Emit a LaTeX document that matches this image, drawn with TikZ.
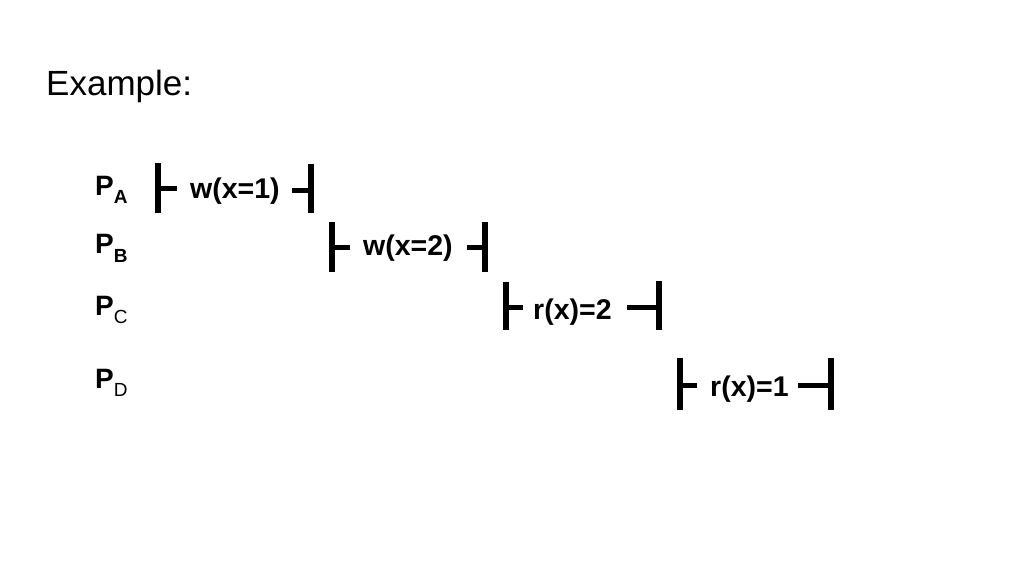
\documentclass[tikz,border=0pt]{standalone}
\usepackage{fontspec}
\setmainfont{Liberation Sans}
\begin{document}
\begin{tikzpicture}[x=1pt,y=-1pt,
  optext/.style={inner sep=0pt, anchor=base west, font=\fontsize{28.5}{30}\selectfont\bfseries},
  plabel/.style={inner sep=0pt, anchor=base west, font=\fontsize{28}{30}\selectfont\bfseries},
  bar/.style={line width=5.5pt},
  tickline/.style={line width=5pt}]
\useasboundingbox (0,0) rectangle (1024,576);
\node[inner sep=0pt, anchor=base west, font=\fontsize{35}{36}\selectfont] (ex) at (46,95) {Example:};

% process labels
\node[plabel] (pa) at (95,195) {P\raisebox{-8pt}{\fontsize{19}{19}\selectfont\bfseries A}};
\node[plabel] (pb) at (95,253) {P\raisebox{-9pt}{\fontsize{19}{19}\selectfont\bfseries B}};
\node[plabel] (pc) at (95,315) {P\raisebox{-8pt}{\fontsize{19}{19}\selectfont\mdseries C}};
\node[plabel] (pd) at (95,388) {P\raisebox{-8pt}{\fontsize{19}{19}\selectfont\mdseries D}};

% operations
\node[optext] (oa) at (190,198) {w(x=1)};
\node[optext] (ob) at (363,255) {w(x=2)};
\node[optext] (oc) at (533,319) {r(x)=2};
\node[optext] (od) at (710,396) {r(x)=1};

% A
\draw[bar] (158,163) -- (158,213);
\draw[tickline] (158,188) -- (177,188);
\draw[tickline] (292,190) -- (311,190);
\draw[bar] (311,164) -- (311,213);
% B
\draw[bar] (332,222) -- (332,272);
\draw[tickline] (332,247) -- (350,247);
\draw[tickline] (467,247) -- (485,247);
\draw[bar] (485,222) -- (485,272);
% C
\draw[bar] (506,282) -- (506,330);
\draw[tickline] (506,307) -- (523,307);
\draw[tickline] (627,307) -- (659,307);
\draw[bar] (659,281) -- (659,330);
% D
\draw[bar] (680,358) -- (680,410);
\draw[tickline] (680,385) -- (697,385);
\draw[tickline] (798,385) -- (831,385);
\draw[bar] (831,358) -- (831,410);
\end{tikzpicture}
\end{document}
